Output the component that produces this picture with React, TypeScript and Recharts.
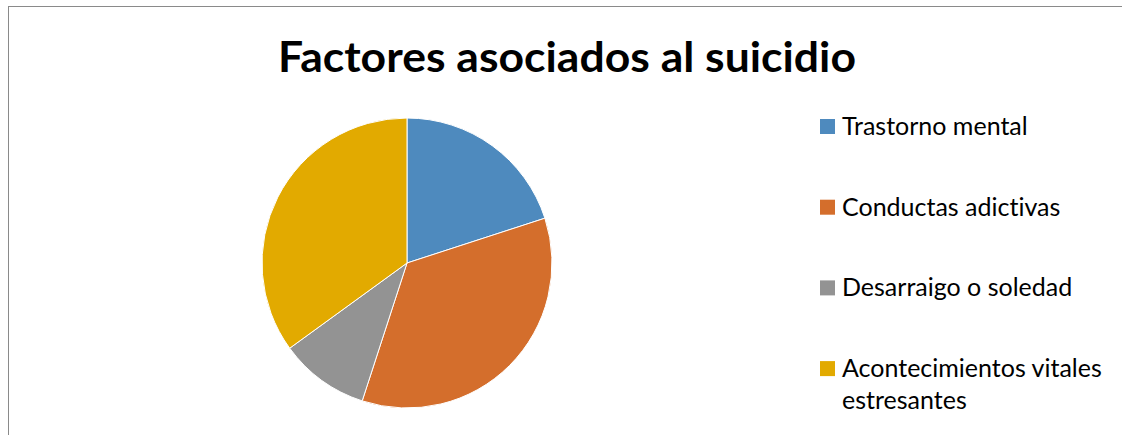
import { PieChart, Pie, Cell, Legend } from 'recharts';

const categories = [
  'Trastorno mental',
  'Conductas adictivas',
  'Desarraigo o soledad',
  'Acontecimientos vitales estresantes',
];
const values = [20, 35, 10, 35];
const colors = ['#4E8ABE', '#D46E2C', '#939393', '#E2AA00'];

const chartData = categories.map((name, i) => ({ name, value: values[i] }));

const FONT = 'Lato, "Open Sans", sans-serif';

// greedy wrap, roughly the width the legend box allows
function wrap(label: string, max = 24): string[] {
  const lines: string[] = [];
  let cur = '';
  for (const w of label.split(' ')) {
    const next = cur ? `${cur} ${w}` : w;
    if (next.length > max && cur) {
      lines.push(cur);
      cur = w;
    } else {
      cur = next;
    }
  }
  if (cur) lines.push(cur);
  return lines;
}

// legend keeps the data order (recharts sorts the payload otherwise)
function LegendBox() {
  return (
    <svg width={300} height={330} style={{ display: 'block' }}>
      {categories.map((name, i) => {
        const top = 19 + i * 80.7;
        return (
          <g key={name}>
            <rect x={5} y={top} width={15} height={15} fill={colors[i]} />
            {wrap(name).map((line, j) => (
              <text
                key={j}
                x={27}
                y={top + 16 + j * 32}
                fontFamily={FONT}
                fontSize={25}
                fill="#000"
                style={{ fontVariantLigatures: 'none' }}
              >
                {line}
              </text>
            ))}
          </g>
        );
      })}
    </svg>
  );
}

export default function App() {
  return (
    <div
      style={{
        position: 'absolute',
        left: 0,
        top: 0,
        width: 1122,
        height: 435,
        background: '#fff',
        overflow: 'hidden',
      }}
    >
      <div style={{ position: 'absolute', left: 8, top: 6, width: 1114, height: 1, background: '#8a8a8a' }} />
      <div style={{ position: 'absolute', left: 8, top: 6, width: 1, height: 429, background: '#8a8a8a' }} />
      <svg width={1122} height={90} style={{ position: 'absolute', left: 0, top: 0 }}>
        <text
          x={567}
          y={72}
          textAnchor="middle"
          fontFamily={FONT}
          fontWeight={700}
          fontSize={42}
          textLength={578}
          lengthAdjust="spacingAndGlyphs"
          fill="#000"
        >
          Factores asociados al suicidio
        </text>
      </svg>
      <PieChart
        width={1122}
        height={435}
        margin={{ top: 0, right: 0, bottom: 0, left: 0 }}
        style={{ position: 'absolute', left: 0, top: 0 }}
      >
        <Pie
          data={chartData}
          dataKey="value"
          nameKey="name"
          cx={407}
          cy={263}
          outerRadius={145}
          startAngle={90}
          endAngle={-270}
          stroke="#fff"
          strokeWidth={1}
          isAnimationActive={false}
        >
          {chartData.map((d, i) => (
            <Cell key={d.name} fill={colors[i]} />
          ))}
        </Pie>
        <Legend
          layout="vertical"
          align="right"
          verticalAlign="top"
          wrapperStyle={{ left: 815, top: 100, width: 300 }}
          content={() => <LegendBox />}
        />
      </PieChart>
    </div>
  );
}
